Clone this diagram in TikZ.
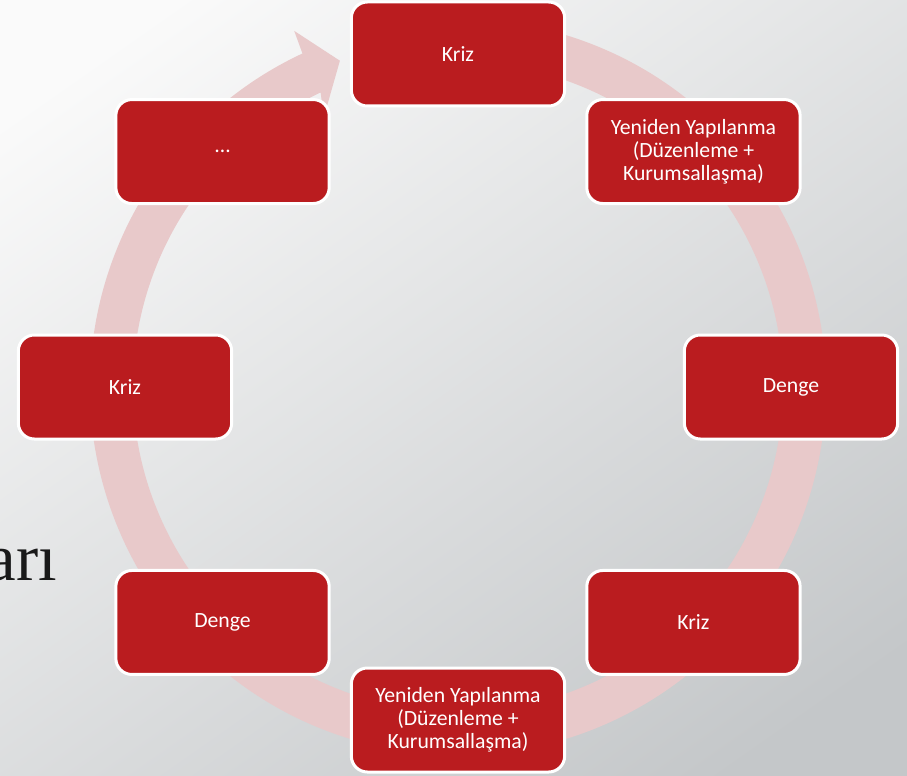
\documentclass[tikz,border=0pt]{standalone}
\usepackage{fontspec}
\setmainfont{Carlito}
\newfontfamily\titlefont{Liberation Serif}
\usepackage{xcolor}
\definecolor{boxred}{HTML}{BA1C1F}
\definecolor{cyclepink}{HTML}{E8C9CA}
\definecolor{bglight}{HTML}{FAFAFA}
\definecolor{bgdark}{HTML}{C4C7C9}

\tikzset{
  stage/.style={draw=white, line width=2.25pt, fill=boxred, rounded corners=12pt,
    minimum width=160pt, minimum height=78pt, text=white, align=center,
    font=\fontsize{16.3}{17.3}\selectfont, inner sep=2pt}
}

\begin{document}
\begin{tikzpicture}[x=0.75pt, y=0.75pt]
		% radii of the cycle band (circle center at the origin)
		\def\rout{368}
		\def\rin{325}

		% background of the slide
		\useasboundingbox (-458,387) rectangle (449,-388);
		\clip (-458,387) rectangle (449,-388);
		\shade[top color=bglight, bottom color=bgdark, shading angle=35]
		(-520,450) rectangle (510,-450);

		% part of the slide title behind the diagram
		\node[anchor=base east, font=\titlefont\fontsize{50}{60}\selectfont, text=black!90, inner sep=0pt]
		(title) at (-401,-193) {arı};

		% circular arrow
		\fill[cyclepink]
		(80:\rout) arc[start angle=80, end angle=-245, radius=\rout]
		-- (-245.3:392) -- (-250.1:347) -- (-243.5:301) -- (-245:\rin)
		arc[start angle=-245, end angle=80, radius=\rin] -- cycle;

		% stages of the cycle
		\foreach \ang/\name/\txt in {90/krizA/Kriz,
				45/yapiA/{Yeniden Yapılanma\\(Düzenleme +\\Kurumsallaşma)},
				0/dengeA/Denge, -45/krizB/Kriz,
				-90/yapiB/{Yeniden Yapılanma\\(Düzenleme +\\Kurumsallaşma)},
				-135/dengeB/Denge, 180/krizC/Kriz, 135/devam/{\ldots}} {
				\node[stage] (\name) at (\ang:333) {\txt};
			}
	\end{tikzpicture}
\end{document}
